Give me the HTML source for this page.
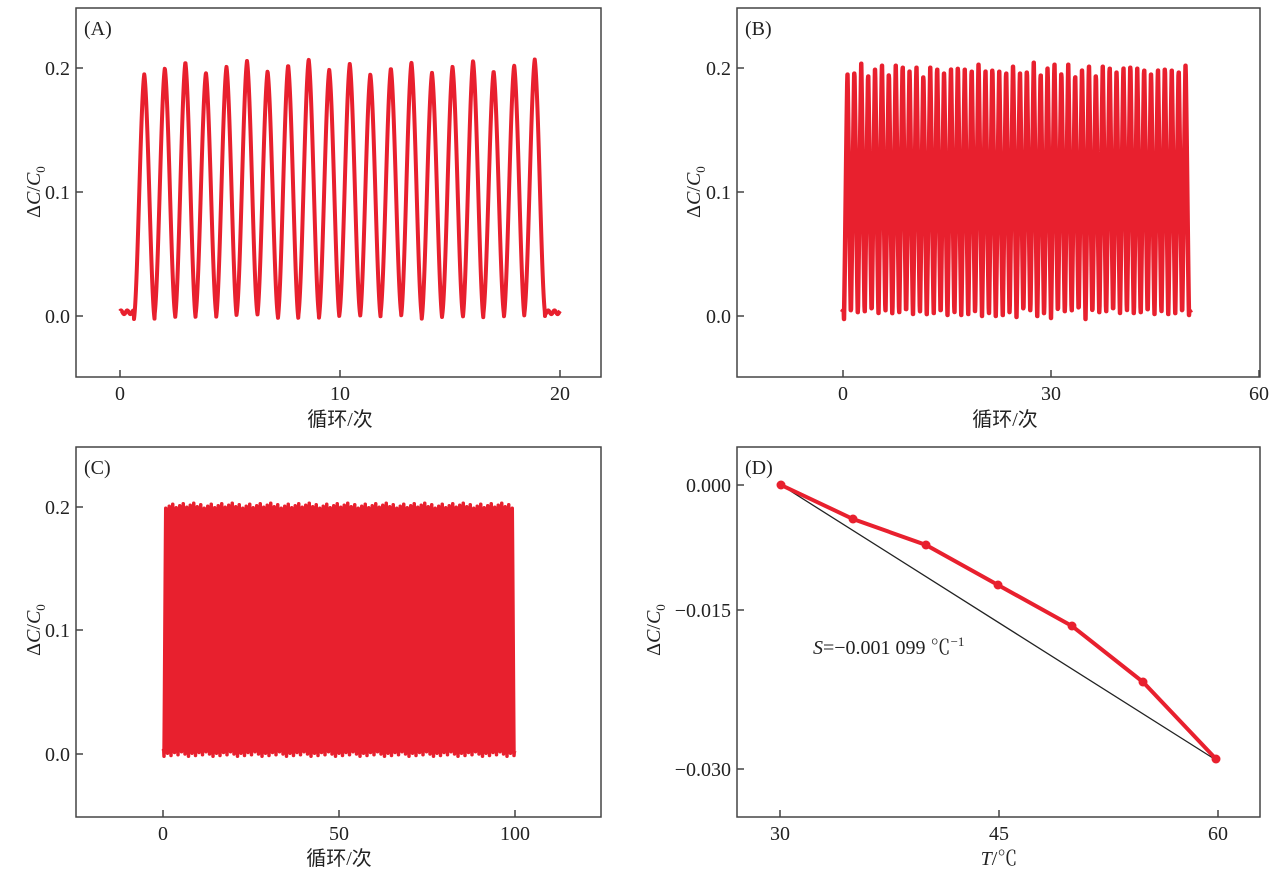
<!DOCTYPE html>
<html><head><meta charset="utf-8">
<style>
html,body{margin:0;padding:0;background:#fff;}
svg{display:block;}
text{font-family:"Liberation Serif","Noto Serif CJK SC",serif;font-size:20px;fill:#222;}
.cj{font-family:"Liberation Serif","Noto Sans CJK SC",sans-serif;}
</style></head><body>
<svg id="s" width="1280" height="874" viewBox="0 0 1280 874" xmlns="http://www.w3.org/2000/svg">
<g fill="none" stroke="#444" stroke-width="1.5">
<rect x="76" y="8" width="525" height="369"/>
<rect x="737" y="8" width="523" height="369"/>
<rect x="76" y="447" width="525" height="370"/>
<rect x="737" y="447" width="523" height="370"/>
<path d="M76 68h7M76 192h7M76 316h7M120 377v-7M340 377v-7M560 377v-7"/>
<path d="M737 68h7M737 192h7M737 316h7M843 377v-7M1051 377v-7M1259 377v-7"/>
<path d="M76 507h7M76 630h7M76 754h7M163 817v-7M339 817v-7M515 817v-7"/>
<path d="M737 485h7M737 610h7M737 769h7M780 817v-7M999 817v-7M1218 817v-7"/>
</g>
<g id="curves"></g>
<line x1="781" y1="485" x2="1216" y2="760" stroke="#222" stroke-width="1.3"/>
<polyline points="781,485 853,519 926,545 998,585 1072,626 1143,682 1216,759" fill="none" stroke="#e8202e" stroke-width="4"/>
<g fill="#e8202e"><circle cx="781" cy="485" r="4.5"/><circle cx="853" cy="519" r="4.5"/><circle cx="926" cy="545" r="4.5"/><circle cx="998" cy="585" r="4.5"/><circle cx="1072" cy="626" r="4.5"/><circle cx="1143" cy="682" r="4.5"/><circle cx="1216" cy="759" r="4.5"/></g>
<text x="84" y="35">(A)</text><text x="745" y="35">(B)</text><text x="84" y="474">(C)</text><text x="745" y="474">(D)</text>
<g text-anchor="end">
<text x="70" y="75">0.2</text><text x="70" y="199">0.1</text><text x="70" y="323">0.0</text>
<text x="731" y="75">0.2</text><text x="731" y="199">0.1</text><text x="731" y="323">0.0</text>
<text x="70" y="514">0.2</text><text x="70" y="637">0.1</text><text x="70" y="761">0.0</text>
<text x="731" y="492">0.000</text><text x="731" y="617">−0.015</text><text x="731" y="776">−0.030</text>
</g>
<g text-anchor="middle">
<text x="120" y="400">0</text><text x="340" y="400">10</text><text x="560" y="400">20</text>
<text x="843" y="400">0</text><text x="1051" y="400">30</text><text x="1259" y="400">60</text>
<text x="163" y="840">0</text><text x="339" y="840">50</text><text x="515" y="840">100</text>
<text x="780" y="840">30</text><text x="999" y="840">45</text><text x="1218" y="840">60</text>
<text class="cj" x="340" y="426">循环/次</text>
<text class="cj" x="1005" y="426">循环/次</text>
<text class="cj" x="339" y="865">循环/次</text>
<text x="999" y="865"><tspan font-style="italic">T</tspan>/℃</text>
</g>
<text x="813" y="654"><tspan font-style="italic">S</tspan>=−0.001 099 ℃<tspan font-size="13" dy="-8">−1</tspan></text>
<g id="yl"></g>
</svg>
<script>
var NS="http://www.w3.org/2000/svg";
function yl(x,y){var t=document.createElementNS(NS,"text");t.setAttribute("transform","translate("+x+","+y+") rotate(-90)");t.setAttribute("text-anchor","middle");
t.innerHTML='Δ<tspan font-style="italic">C</tspan>/<tspan font-style="italic">C</tspan><tspan font-size="13" dy="5">0</tspan>';document.getElementById("yl").appendChild(t);}
yl(40,192);yl(700,192);yl(40,630);yl(660,630);
var g=document.getElementById("curves");
function wave(x0,x1,xs,xe,n,y0,yscale,sw,av,lv,tri){
 var pts=[];var per=(xe-xs)/n;
 for(var x=x0;x<=x1;x+=0.25){
  var v;
  if(x<xs||x>xe){v=0.003+0.0015*Math.sin(x);}
  else{var k=Math.floor((x-xs)/per);var ph=(x-xs)/per-k;
   var amp=0.201+(((k*37)%11)-5)*av;var lo=0.0+(((k*53)%7)-3)*lv;
   var c=0.5-0.5*Math.cos(2*Math.PI*ph);
   var t=1-Math.abs(2*ph-1);
   c=(1-tri)*c+tri*t;
   v=lo+(amp-lo)*c;}
  pts.push(x.toFixed(2)+","+(y0-v*yscale).toFixed(2));}
 var p=document.createElementNS(NS,"polyline");p.setAttribute("points",pts.join(" "));
 p.setAttribute("fill","none");p.setAttribute("stroke","#e8202e");p.setAttribute("stroke-width",sw);p.setAttribute("stroke-linejoin","round");g.appendChild(p);}
wave(120,560,134,545,20,316,1240,4,0.0012,0.0008,0.3);
wave(842,1191,844,1189,50,316,1240,4.5,0.0008,0.0008,0.8);
wave(163,515,164,514,100,754,1235,3.5,0.0004,0.0006,0.8);
</script>
</body></html>
